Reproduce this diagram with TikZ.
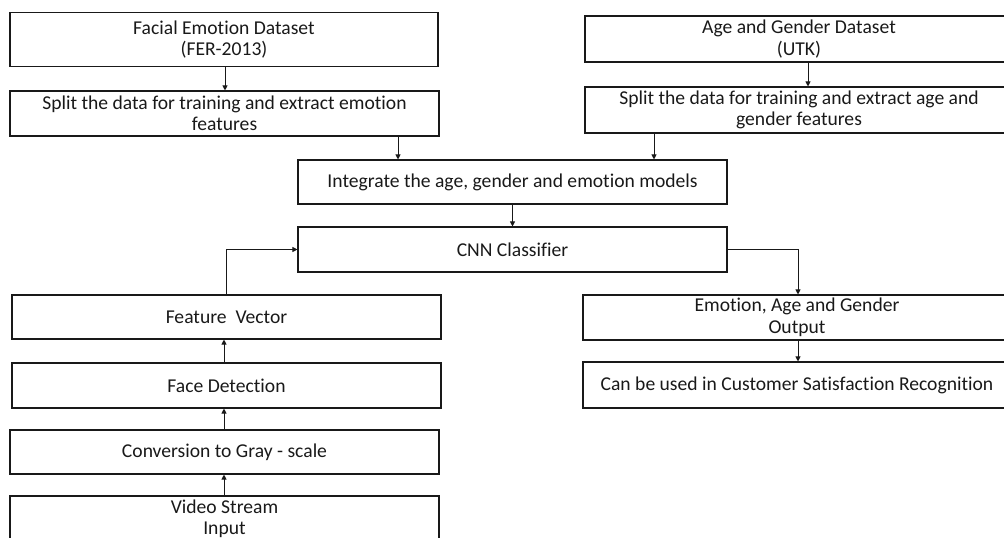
\documentclass[tikz,border=0pt]{standalone}
\usepackage{fontspec}
\setmainfont{Carlito}[Ligatures=NoCommon]
\usetikzlibrary{arrows.meta}
\begin{document}
\begin{tikzpicture}[x=1pt,y=-1pt,
  box/.style={draw=black!90, line width=1.1pt, minimum width=428pt, inner sep=0pt, align=center,
    font=\fontsize{19.6}{21.5}\selectfont, text=black!90},
  arr/.style={line width=1pt, black!90, -{Triangle[length=5pt,width=5pt]}}]
\useasboundingbox (0,0) rectangle (1004,538);
\begin{scope}
\clip (0,0) rectangle (1004,538);
\node[box, minimum height=54pt] (fer) at (224,39.5) {Facial Emotion Dataset\\(FER-2013)};
\node[box, minimum height=45pt, minimum width=429pt] (split1) at (224.5,113.5) {Split the data for training and extract emotion\\features};
\node[box, minimum height=46pt] (ag) at (799,39) {Age and Gender Dataset\\(UTK)};
\node[box, minimum height=46pt] (split2) at (799,110) {Split the data for training and extract age and\\gender features};
\node[box, minimum height=44pt, minimum width=429pt] (integ) at (512.5,182) {Integrate the age, gender and emotion models};
\node[box, minimum height=45pt, minimum width=429pt] (cnn) at (512.5,249.5) {CNN Classifier};
\node[box, minimum height=44pt, minimum width=429pt] (feat) at (226.5,317) {Feature~~Vector};
\node[box, minimum height=45pt, minimum width=429pt] (face) at (226.5,385.5) {Face Detection};
\node[box, minimum height=44pt, minimum width=429pt] (conv) at (224.5,452) {Conversion to Gray - scale};
\node[box, minimum height=46pt, minimum width=429pt] (video) at (224.5,519) {Video Stream\\Input};
\node[box, minimum height=45pt] (out) at (797,317.5) {Emotion, Age and Gender\\Output};
\node[box, minimum height=46pt] (can) at (797,385) {Can be used in Customer Satisfaction Recognition};

\draw[arr] ([xshift=1pt]fer.south) coordinate (a1) -- (a1 |- split1.north);
\draw[arr] ([xshift=9pt]ag.south) coordinate (a2) -- (a2 |- split2.north);
\draw[arr] ([xshift=173.5pt]split1.south) coordinate (a3) -- (a3 |- integ.north);
\draw[arr] ([xshift=-145pt]split2.south) coordinate (a4) -- (a4 |- integ.north);
\draw[arr] (integ.south) -- (cnn.north);
\draw[arr] (cnn.east) -| ([xshift=1pt]out.north);
\draw[arr] ([xshift=1pt]out.south) coordinate (a5) -- (a5 |- can.north);
\draw[arr] ([xshift=-0.5pt]video.north) coordinate (a6) -- (a6 |- conv.south);
\draw[arr] ([xshift=-0.5pt]conv.north) coordinate (a7) -- (a7 |- face.south);
\draw[arr] ([xshift=-2.5pt]face.north) coordinate (a8) -- (a8 |- feat.south);
\draw[arr] (feat.north) |- (cnn.west);
\end{scope}
\end{tikzpicture}
\end{document}
